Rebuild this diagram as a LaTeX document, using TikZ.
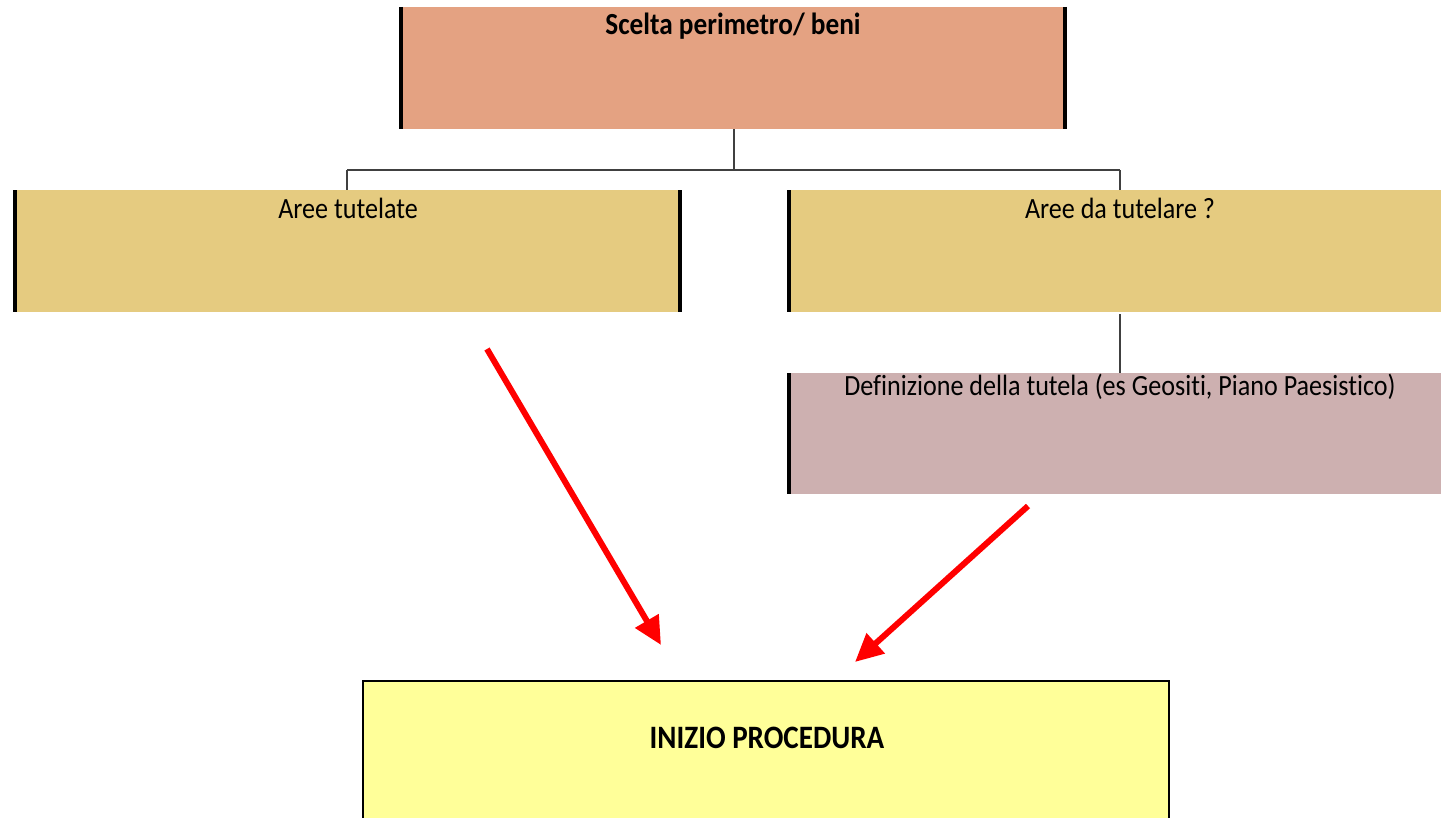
\documentclass[tikz,border=0pt]{standalone}
\usepackage{fontspec}
\setmainfont{Carlito}[FakeStretch=0.89,Ligatures=CommonOff]
\usetikzlibrary{arrows.meta}
\definecolor{topfill}{HTML}{E4A282}
\definecolor{midfill}{HTML}{E5CB80}
\definecolor{pinkfill}{HTML}{CDB0B0}
\definecolor{endfill}{HTML}{FFFF99}
\definecolor{connc}{HTML}{404040}
\begin{document}
\begin{tikzpicture}[x=0.75pt,y=-0.75pt,
  box/.style={rectangle, anchor=north west, inner sep=0pt, outer sep=0pt, draw=none},
  sidebar/.style={line width=2.8pt, black},
  conn/.style={line width=0.8pt, connc},
  redarrow/.style={line width=4.5pt, red, -{Triangle[length=21pt,width=19.5pt]}},
  txt/.style={anchor=base, inner sep=0pt, font=\fontsize{22pt}{26pt}\selectfont},
  btxt/.style={anchor=base, inner sep=0pt, font=\fontsize{23pt}{27pt}\selectfont\bfseries}
]
\useasboundingbox (0,0) rectangle (1441,817);
\begin{scope}
\clip (0,0) rectangle (1441,817);
% boxes
\node[box, fill=topfill, minimum width=498pt, minimum height=91.5pt] (top) at (401,7) {};
\node[box, fill=midfill, minimum width=498.75pt, minimum height=91.5pt] (left) at (15,190) {};
\node[box, fill=midfill, minimum width=495pt, minimum height=91.5pt] (right) at (789,190) {};
\node[box, fill=pinkfill, minimum width=495pt, minimum height=90.75pt] (def) at (789,373) {};
\node[box, fill=endfill, draw=black, line width=0.9pt, minimum width=604.5pt, minimum height=120pt] (proc) at (363,681) {};
% side bars
\draw[sidebar] (top.north west) -- (top.south west);
\draw[sidebar] (top.north east) -- (top.south east);
\draw[sidebar] (left.north west) -- (left.south west);
\draw[sidebar] (left.north east) -- (left.south east);
\draw[sidebar] (right.north west) -- (right.south west);
\draw[sidebar] (def.north west) -- (def.south west);
% texts
\node[btxt] (toptxt) at (733,35) {Scelta perimetro/ beni};
\node[txt] (lefttxt) at (348,218) {Aree tutelate};
\node[txt] (righttxt) at (1120,218) {Aree da tutelare ?};
\node[txt] (deftxt) at (1120,395) {Definizione della tutela (es Geositi, Piano Paesistico)};
\node[btxt, font=\fontsize{24.5pt}{28pt}\selectfont\bfseries] (proctxt) at (767,748) {INIZIO PROCEDURA};
% connectors
\coordinate (junc) at (734,170);
\coordinate (jl) at (347,170);
\coordinate (jr) at (1120,170);
\coordinate (dtop) at (1120,314);
\draw[conn] (top.south -| junc) -- (junc);
\draw[conn] (jl) -- (jr);
\draw[conn] (jl) -- (left.north -| jl);
\draw[conn] (jr) -- (right.north -| jr);
\draw[conn] (dtop) -- (def.north -| jr);
% red arrows
\coordinate (a1s) at (487,349);
\coordinate (a1e) at (661,645);
\coordinate (a2s) at (1028,506);
\coordinate (a2e) at (855,662);
\draw[redarrow] (a1s) -- (a1e);
\draw[redarrow] (a2s) -- (a2e);
\end{scope}
\end{tikzpicture}
\end{document}
